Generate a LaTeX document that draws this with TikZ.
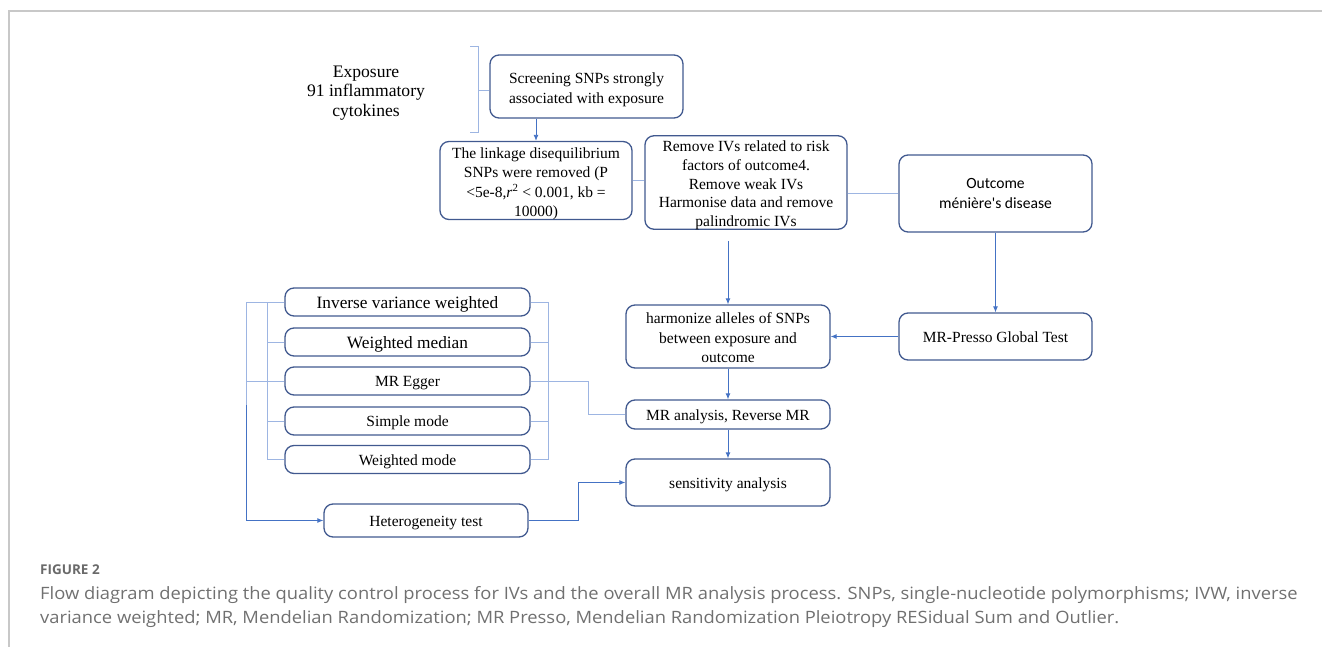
\documentclass[tikz,border=0pt]{standalone}
\usepackage{fontspec}
\setmainfont{Liberation Serif}
\newfontfamily\calfont{Carlito}
\newfontfamily\capfont[FakeStretch=1.08]{Open Sans}
\newfontfamily\figfont{Open Sans}
\usetikzlibrary{arrows.meta,calc}
\definecolor{boxc}{HTML}{41598F}
\definecolor{arrc}{HTML}{4472C4}
\definecolor{lite}{HTML}{9DB5E2}
\definecolor{framec}{HTML}{C8C8C8}
\definecolor{capc}{HTML}{707070}
\definecolor{figc}{HTML}{6A6A6A}
\newcommand\tl[2][-3pt]{\raisebox{#1}[\height][\depth]{\begin{tabular}{@{}c@{}}#2\end{tabular}}}
\tikzset{
  box/.style={draw=boxc, line width=1.3pt, rounded corners=9pt, align=center, inner sep=0pt},
  bx/.style 2 args={box, minimum width=#1, minimum height=#2},
  fs/.style={font=\fontsize{15.5}{19.5}\selectfont},
  big/.style={font=\fontsize{17.3}{19.5}\selectfont},
  conn/.style={draw=arrc, line width=0.9pt},
  arr/.style={conn, -{Latex[length=6pt,width=5pt]}},
  litel/.style={draw=lite, line width=1pt},
}
\begin{document}
\begin{tikzpicture}[x=1pt,y=-1pt]
\useasboundingbox (0,0) rectangle (1322,647);
% frame
\draw[framec, line width=1.2pt] (9,647) -- (9,11) -- (1322,11);

% exposure text
\node[align=center, font=\fontsize{17.6}{19.5}\selectfont] (expo) at (366,93) {Exposure\\91 inflammatory\\cytokines};

% boxes
\node[bx={193}{63}, fs] (scr) at (586.5,86.5) {\tl{Screening SNPs strongly\\associated with exposure}};
\node[bx={192}{75}, fs] (ld) at (536,180.5) {\tl{The linkage disequilibrium\\SNPs were removed (P\\<5e-8,\textit{r}\textsuperscript{2} < 0.001, kb =\\10000)}};
\node[bx={202}{91}, font=\fontsize{15.5}{18.7}\selectfont] (rem) at (746,182.5) {\tl{Remove IVs related to risk\\factors of outcome4.\\Remove weak IVs\\Harmonise data and remove\\palindromic IVs}};
\node[bx={193}{77}, font=\calfont\fontsize{15.6}{19.5}\selectfont] (out) at (995.5,193.5) {\tl[-1pt]{Outcome\\ménière's disease}};
\node[bx={204}{63}, fs] (harm) at (728,336.5) {\tl{harmonize alleles of SNPs\\between exposure and\\outcome}};
\node[bx={193}{47}, fs] (presso) at (995.5,336.5) {\tl[-2pt]{MR-Presso Global Test}};
\node[bx={204}{29}, fs] (mra) at (728,414.5) {\tl[-2pt]{MR analysis, Reverse MR}};
\node[bx={204}{47}, fs] (sens) at (728,482.5) {\tl[-2pt]{sensitivity analysis}};

\node[bx={245}{28}, big] (ivw) at (407.5,302) {\tl{Inverse variance weighted}};
\node[bx={245}{28}, big] (wm) at (407.5,342) {\tl{Weighted median}};
\node[bx={245}{28}, fs] (egg) at (407.5,381) {\tl[-2pt]{MR Egger}};
\node[bx={245}{28}, fs] (sim) at (407.5,421) {\tl[-2pt]{Simple mode}};
\node[bx={245}{28}, fs] (wmo) at (407.5,459.5) {\tl[-2pt]{Weighted mode}};
\node[bx={204}{33}, fs] (het) at (426,520.5) {\tl[-2pt]{Heterogeneity test}};

% brace
\coordinate (bt) at (478,47);
\coordinate (bb) at (478,133);
\coordinate (bm) at (478,91);
\draw[litel] ($(bt)+(-8,0)$) -- (bt) -- (bb) -- ($(bb)+(-8,0)$);
\draw[litel] (bm) -- (bm -| scr.west);

% top connectors
\draw[arr] (scr.south -| ld.north) -- (ld.north);
\draw[litel] (ld.east) -- (ld.east -| rem.west);
\draw[litel] (rem.east |- out.west) -- (out.west);
\coordinate (r1) at ([yshift=-11pt]rem.south);
\draw[arr] (r1 -| harm.north) -- (harm.north);
\draw[arr] (out.south) -- (presso.north);
\draw[arr] (presso.west) -- (harm.east);
\draw[arr] (harm.south) -- (mra.north);
\draw[arr] (mra.south) -- (sens.north);

% MR Egger to MR analysis
\draw[litel] (egg.east) -- ++(58,0) |- (mra.west);
% heterogeneity to sensitivity
\draw[arr] (het.east) -- ++(50,0) |- (sens.west);

% right tree
\draw[litel] (ivw.east) -- ++(18,0) |- (wmo.east);
\draw[litel] (wm.east) -- ++(18,0);
\draw[litel] (sim.east) -- ++(18,0);

% left tree
\coordinate (lo) at ($(ivw.west)+(-38,0)$);
\coordinate (lm) at (lo |- 0,405);
\draw[litel] (ivw.west) -- (lo) -- (lm);
\draw[litel] (lo |- egg.west) -- (egg.west);
\draw[arr] (lm) |- (het.west);
\draw[litel] (ivw.west) -- ++(-17,0) |- (wmo.west);
\draw[litel] (wm.west) -- ++(-17,0);
\draw[litel] (sim.west) -- ++(-17,0);

% caption
\node[anchor=base west, inner sep=0pt, text=figc, font=\figfont\bfseries\fontsize{13.5}{16}\selectfont] (fig) at (40,574) {FIGURE 2};
\node[anchor=base west, inner sep=0pt, align=left, text=capc, font=\capfont\fontsize{17}{24}\selectfont] (cap) at (40,623) {Flow diagram depicting the quality control process for IVs and the overall MR analysis process. SNPs, single-nucleotide polymorphisms; IVW, inverse\\variance weighted; MR, Mendelian Randomization; MR Presso, Mendelian Randomization Pleiotropy RESidual Sum and Outlier.};
\end{tikzpicture}
\end{document}
